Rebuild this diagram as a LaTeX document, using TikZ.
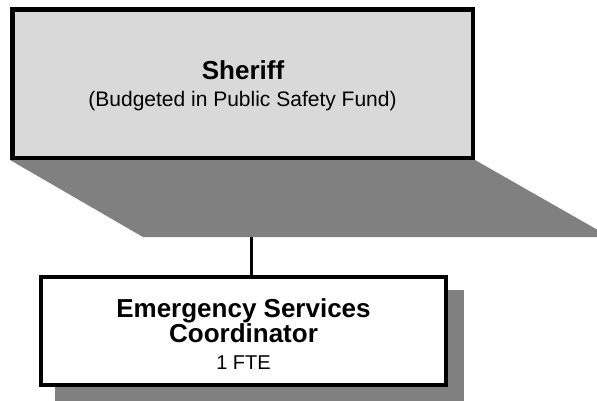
\documentclass[tikz,border=0pt]{standalone}
\usepackage{fontspec}
\setmainfont{Liberation Sans}
\definecolor{boxgrey}{HTML}{D9D9D9}
\definecolor{shadowgrey}{HTML}{808080}
\tikzset{
  orgbox/.style={draw=black, rectangle, inner sep=0pt},
  shadowfill/.style={fill=shadowgrey, draw=none},
  titletext/.style={anchor=base, inner sep=0pt, font=\fontsize{26}{26}\selectfont\bfseries},
  subtext/.style={anchor=base, inner sep=0pt, font=\fontsize{21}{21}\selectfont},
  linktext/.style={line width=3pt, draw=black}
}
\begin{document}
\begin{tikzpicture}[x=1pt, y=-1pt]
\useasboundingbox (0,0) rectangle (597,401);
\begin{scope}
\clip (0,0) rectangle (597,401);
% boxes (positions only; drawn later on top)
\path (242.75,83.75) node[orgbox, draw=none, minimum width=460.5pt, minimum height=148.5pt] (sheriffpos) {};
\path (243.5,331) node[orgbox, draw=none, minimum width=405pt, minimum height=108pt] (escpos) {};
% connector
\draw[linktext] (sheriffpos.south -| 251.5,0) -- (escpos.north -| 251.5,0);
% shadows
\fill[shadowgrey] (10,160) -- (475,160) -- (610,237) -- (143,237) -- cycle;
\fill[shadowgrey] (55,290) rectangle (464,402);
\end{scope}
% boxes
\node[orgbox, fill=boxgrey, line width=4.5pt, minimum width=460.5pt, minimum height=148.5pt] (sheriff) at (242.75,83.75) {};
\node[orgbox, fill=white, line width=4pt, minimum width=405pt, minimum height=108pt] (esc) at (243.5,331) {};
% texts
\node[titletext] (t1) at (243,80) {Sheriff};
\node[subtext] (t2) at (242.5,107) {(Budgeted in Public Safety Fund)};
\node[titletext] (t3) at (243.5,317) {Emergency Services};
\node[titletext] (t4) at (243.5,342.5) {Coordinator};
\node[subtext, font=\fontsize{20}{20}\selectfont] (t5) at (243.5,369.5) {1 FTE};
\end{tikzpicture}
\end{document}
